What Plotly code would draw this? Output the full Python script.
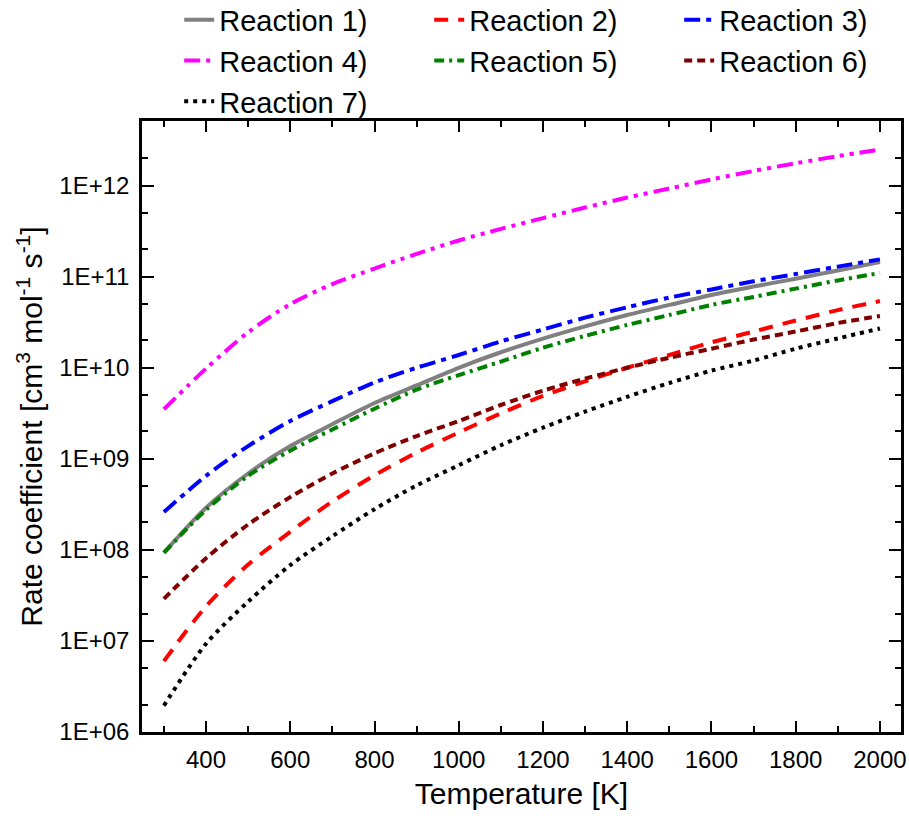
import plotly.graph_objects as go

temperature = [300, 400, 500, 600, 700, 800, 900, 1000, 1100, 1200,
               1300, 1400, 1500, 1600, 1700, 1800, 1900, 2000]

r1 = [9.3e7, 2.9e8, 6.9e8, 1.38e9, 2.4e9, 4.1e9, 6.4e9, 1.0e10, 1.48e10, 2.09e10,
      2.85e10, 3.8e10, 4.9e10, 6.3e10, 7.8e10, 9.5e10, 1.17e11, 1.45e11]
r2 = [6.0e6, 2.4e7, 6.9e7, 1.58e8, 3.4e8, 6.6e8, 1.17e9, 1.95e9, 3.16e9, 4.9e9,
      7.1e9, 1.0e10, 1.38e10, 1.9e10, 2.5e10, 3.3e10, 4.3e10, 5.4e10]
r3 = [2.6e8, 6.5e8, 1.38e9, 2.6e9, 4.3e9, 6.9e9, 1.0e10, 1.38e10, 1.95e10, 2.63e10,
      3.55e10, 4.62e10, 5.9e10, 7.25e10, 8.9e10, 1.07e11, 1.29e11, 1.55e11]
r4 = [3.5e9, 9.8e9, 2.45e10, 5.0e10, 8.3e10, 1.23e11, 1.78e11, 2.5e11, 3.35e11, 4.4e11,
      5.75e11, 7.4e11, 9.3e11, 1.17e12, 1.45e12, 1.76e12, 2.11e12, 2.5e12]
r5 = [9.3e7, 2.75e8, 6.5e8, 1.23e9, 2.1e9, 3.55e9, 5.75e9, 8.3e9, 1.17e10, 1.66e10,
      2.24e10, 2.95e10, 3.8e10, 4.9e10, 6.0e10, 7.4e10, 9.1e10, 1.1e11]
r6 = [2.9e7, 8.1e7, 1.9e8, 3.8e8, 6.9e8, 1.15e9, 1.78e9, 2.6e9, 3.9e9, 5.6e9,
      7.6e9, 1.0e10, 1.29e10, 1.62e10, 2.04e10, 2.5e10, 3.1e10, 3.7e10]
r7 = [1.95e6, 9.3e6, 2.7e7, 6.8e7, 1.41e8, 2.8e8, 5.1e8, 8.5e8, 1.41e9, 2.2e9,
      3.3e9, 4.8e9, 6.8e9, 9.3e9, 1.2e10, 1.62e10, 2.1e10, 2.7e10]

names = ["Reaction 1)", "Reaction 2)", "Reaction 3)", "Reaction 4)",
         "Reaction 5)", "Reaction 6)", "Reaction 7)"]
series = [r1, r2, r3, r4, r5, r6, r7]
colors = ["#808080", "#FF0000", "#0000FF", "#FF00FF", "#008000", "#800000", "#000000"]
dashes = ["solid", "14px,10px", "16px,6px,5px,6px", "16px,6px,4px,6px,4px,6px",
          "10px,5px,3px,5px", "8px,5px", "4px,5px"]

y_tickvals = [1e6, 1e7, 1e8, 1e9, 1e10, 1e11, 1e12]
y_ticktext = ["1E+06", "1E+07", "1E+08", "1E+09", "1E+10", "1E+11", "1E+12"]
x_tickvals = [400, 600, 800, 1000, 1200, 1400, 1600, 1800, 2000]

fig = go.Figure()
for name, vals, col, dsh in zip(names, series, colors, dashes):
    fig.add_trace(go.Scatter(
        x=temperature, y=vals, mode="lines", name=name,
        line=dict(color=col, width=4, dash=dsh, shape="spline", smoothing=0.8),
    ))

font = "Liberation Sans, Arial, sans-serif"
fig.update_layout(
    width=909, height=819,
    margin=dict(l=142, r=8, t=121, b=87, autoexpand=False),
    paper_bgcolor="white", plot_bgcolor="white",
    font=dict(family=font, color="black"),
    legend=dict(orientation="h", x=0.049, y=1.207, xanchor="left", yanchor="top",
                font=dict(size=29, family=font), entrywidth=205, entrywidthmode="pixels",
                itemwidth=30, bgcolor="rgba(0,0,0,0)", tracegroupgap=0),
    showlegend=True,
)
fig.update_xaxes(
    range=[248, 2050], tickvals=x_tickvals,
    ticks="inside", ticklen=11, tickwidth=2, tickcolor="black",
    minor=dict(ticks="inside", ticklen=6, tickwidth=2, dtick=100, tick0=300, tickcolor="black"),
    showline=True, linewidth=2.5, linecolor="black", mirror="allticks",
    showgrid=False, zeroline=False,
    tickfont=dict(size=24, family=font), ticklabelstandoff=4,
    title=dict(text="Temperature [K]", font=dict(size=30, family=font), standoff=12),
)
fig.update_yaxes(
    type="log", range=[6, 12.71], tickvals=y_tickvals, ticktext=y_ticktext,
    ticks="inside", ticklen=12, tickwidth=2, tickcolor="black",
    minor=dict(ticks="inside", ticklen=6, tickwidth=2, tickcolor="black"),
    showline=True, linewidth=2.5, linecolor="black", mirror="allticks",
    showgrid=False, zeroline=False,
    tickfont=dict(size=24, family=font), ticklabelstandoff=5,
    title=dict(text="Rate coefficient [cm<sup>3</sup> mol<sup>-1</sup> s<sup>-1</sup>]",
               font=dict(size=30, family=font), standoff=8),
)

fig.write_html("out.html")
